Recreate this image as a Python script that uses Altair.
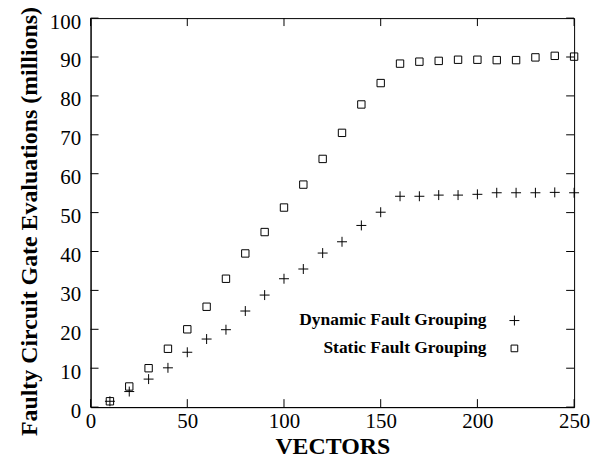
import altair as alt
import pandas as pd

vectors = [10, 20, 30, 40, 50, 60, 70, 80, 90, 100, 110, 120, 130, 140, 150,
           160, 170, 180, 190, 200, 210, 220, 230, 240, 250]
dynamic_vals = [1.5, 4.0, 7.2, 10.1, 14.1, 17.5, 19.9, 24.7, 28.8, 33.0, 35.5, 39.6, 42.5,
                46.7, 50.1, 54.2, 54.2, 54.5, 54.5, 54.7, 55.1, 55.1, 55.1, 55.2, 55.1]
static_vals = [1.5, 5.3, 10.0, 15.0, 20.0, 25.8, 33.0, 39.5, 45.0, 51.3, 57.2, 63.8, 70.5,
               77.8, 83.3, 88.3, 88.8, 89.0, 89.3, 89.3, 89.2, 89.2, 89.9, 90.3, 90.1]
series_names = ["Dynamic Fault Grouping", "Static Fault Grouping"]
x_ticks = [0, 50, 100, 150, 200, 250]
y_ticks = [0, 10, 20, 30, 40, 50, 60, 70, 80, 90, 100]

W, H = 486, 391
FONT = "Liberation Serif"
PLUS = "M-1,0H1M0,-1V1"

dyn = pd.DataFrame({"v": vectors, "e": dynamic_vals})
sta = pd.DataFrame({"v": vectors, "e": static_vals})

xs = alt.Scale(domain=[0, 250], nice=False)
ys = alt.Scale(domain=[0, 100], nice=False)

xaxis = alt.Axis(values=x_ticks, title="VECTORS", tickSize=0, labelPadding=3,
                 titlePadding=4, labelFont=FONT, labelFontSize=21, titleFont=FONT,
                 titleFontSize=24, titleFontWeight="bold", labelColor="black",
                 titleColor="black", domainColor="black", grid=False, labelFlush=False,
                 labelOverlap=False)
yaxis = alt.Axis(values=y_ticks, title="Faulty Circuit Gate Evaluations (millions)",
                 tickSize=0, labelPadding=10, titlePadding=8, labelFont=FONT,
                 labelFontSize=21, labelOffset=4, titleFont=FONT, titleFontSize=24,
                 titleY=204, titleFontWeight="bold", labelColor="black", titleColor="black",
                 domainColor="black", grid=False, labelOverlap=False, labelFlush=False)

p_dyn = alt.Chart(dyn).mark_point(shape=PLUS, filled=False, size=100, color="black",
                                  strokeWidth=1, opacity=1).encode(
    x=alt.X("v:Q", scale=xs, axis=xaxis),
    y=alt.Y("e:Q", scale=ys, axis=yaxis),
)
p_sta = alt.Chart(sta).mark_point(shape="square", filled=False, size=55, color="black",
                                  strokeWidth=1, opacity=1).encode(
    x=alt.X("v:Q", scale=xs, axis=xaxis),
    y=alt.Y("e:Q", scale=ys, axis=yaxis),
)

ydf = pd.DataFrame({"t": y_ticks})
xdf = pd.DataFrame({"t": x_ticks})
TL = 8
yl = alt.Chart(ydf).mark_rule(color="black", strokeWidth=1).encode(
    y=alt.Y("t:Q", scale=ys, axis=yaxis), x=alt.value(0), x2=alt.value(TL))
yr = alt.Chart(ydf).mark_rule(color="black", strokeWidth=1).encode(
    y=alt.Y("t:Q", scale=ys, axis=yaxis), x=alt.value(W - TL), x2=alt.value(W))
xb = alt.Chart(xdf).mark_rule(color="black", strokeWidth=1).encode(
    x=alt.X("t:Q", scale=xs, axis=xaxis), y=alt.value(H - TL), y2=alt.value(H))
xt = alt.Chart(xdf).mark_rule(color="black", strokeWidth=1).encode(
    x=alt.X("t:Q", scale=xs, axis=xaxis), y=alt.value(0), y2=alt.value(TL))

leg = pd.DataFrame({"name": series_names})
leg_text1 = alt.Chart(leg.iloc[[0]]).mark_text(align="right", baseline="middle", font=FONT,
                                                fontSize=17.5, fontWeight="bold",
                                                color="black").encode(
    text="name:N", x=alt.value(398), y=alt.value(303))
leg_text2 = alt.Chart(leg.iloc[[1]]).mark_text(align="right", baseline="middle", font=FONT,
                                                fontSize=17.5, fontWeight="bold",
                                                color="black").encode(
    text="name:N", x=alt.value(398), y=alt.value(332))
leg_p1 = alt.Chart(leg.iloc[[0]]).mark_point(shape=PLUS, filled=False, size=100,
                                             color="black", strokeWidth=1, opacity=1).encode(
    x=alt.value(426), y=alt.value(304))
leg_p2 = alt.Chart(leg.iloc[[1]]).mark_point(shape="square", filled=False, size=45,
                                             color="black", strokeWidth=1, opacity=1).encode(
    x=alt.value(426), y=alt.value(332))

chart = alt.layer(p_dyn, p_sta, yl, yr, xb, xt, leg_text1, leg_text2, leg_p1, leg_p2).properties(
    width=W, height=H, background="white",
    autosize=alt.AutoSizeParams(type="none"),
    padding={"left": 83, "top": 9, "right": 20, "bottom": 50}
).configure_view(stroke="black", strokeWidth=1)

chart.save("out.html", embed_options={"renderer": "svg", "actions": False})
